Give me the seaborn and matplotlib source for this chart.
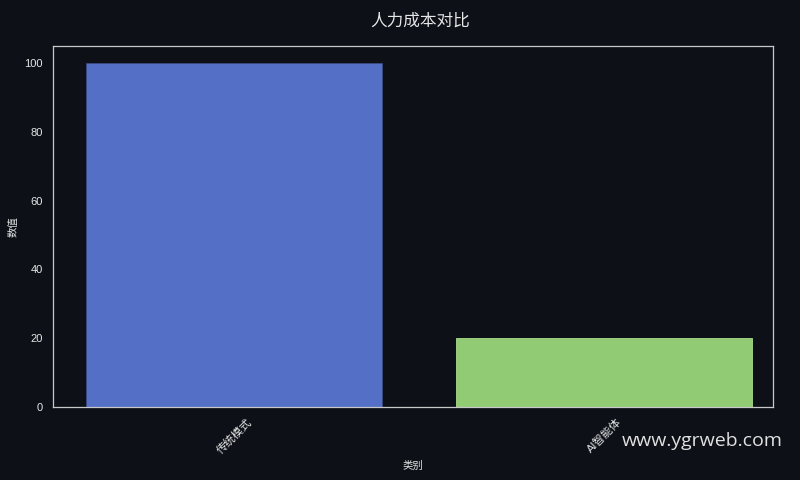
import matplotlib
matplotlib.use("Agg")
import matplotlib.pyplot as plt
import seaborn as sns
import pandas as pd

categories = ["传统模式", "AI智能体"]
values = [100, 20]
colors = ["#5470c6", "#91cc75"]

bg = "#0d1017"
fg = "#e6e6e6"

sns.set_style("dark")
plt.rcParams['font.family'] = ['Liberation Sans', 'Noto Sans CJK SC', 'DejaVu Sans']

df = pd.DataFrame({"类别": categories, "数值": values})

fig, ax = plt.subplots(figsize=(8, 4.8), dpi=100)
fig.patch.set_facecolor(bg)
ax.set_facecolor(bg)

sns.barplot(data=df, x="类别", y="数值", hue="类别", palette=colors,
            legend=False, ax=ax, width=0.8, edgecolor="#3a4a80", linewidth=0.6,
            saturation=1)
ax.patches[1].set_edgecolor("#a8dc8c")

ax.set_xlim(-0.49, 1.455)
ax.set_title("人力成本对比", color=fg, fontsize=12, pad=15, x=0.51)
ax.set_xlabel("类别", color=fg, fontsize=7.5)
ax.set_ylabel("数值", color=fg, fontsize=7.5)
ax.tick_params(colors=fg, labelsize=8, length=3.5, width=0.8)
ax.tick_params(axis="x", rotation=45)
for spine in ax.spines.values():
    spine.set_visible(True)
    spine.set_color("#c8c8c8")
    spine.set_linewidth(0.9)
ax.grid(False)

fig.subplots_adjust(left=0.066, right=0.966, top=0.904, bottom=0.153)
fig.text(0.978, 0.062, "www.ygrweb.com", ha="right", va="bottom",
         fontsize=14, color="#e0e0e0", family="Open Sans")

fig.savefig("out.png", dpi=100, facecolor=bg)
